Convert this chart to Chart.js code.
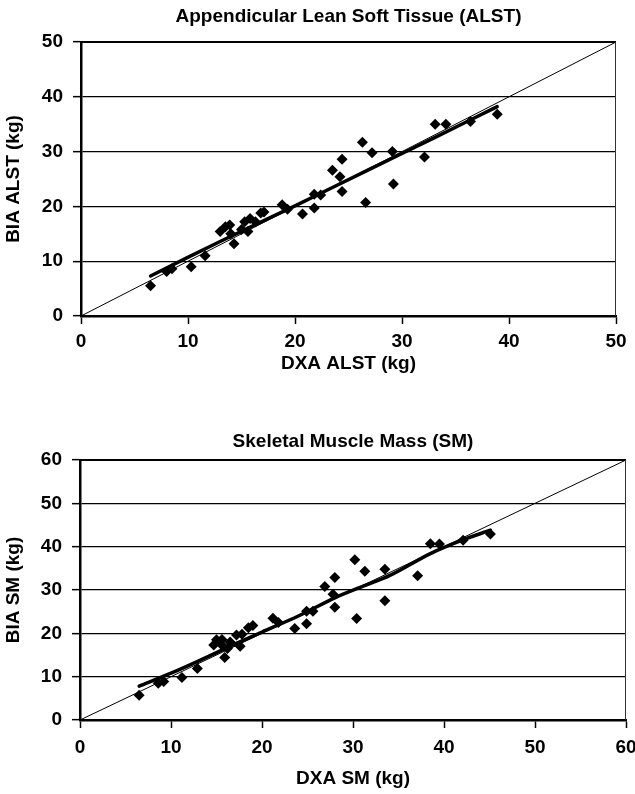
<!DOCTYPE html>
<html>
<head>
<meta charset="utf-8">
<script src="https://cdn.jsdelivr.net/npm/chart.js@4/dist/chart.umd.min.js"></script>
<style>
  html, body { margin: 0; padding: 0; background: #fff; }
  body { width: 635px; height: 794px; position: relative; overflow: hidden; }
  canvas { position: absolute; left: 0; }
  #c1 { top: 0; }
  #c2 { top: 400px; }
</style>
</head>
<body>
<canvas id="c1" width="635" height="380"></canvas>
<canvas id="c2" width="635" height="394"></canvas>
<script>
// ---------- Data: Appendicular Lean Soft Tissue (ALST) ----------
const alstTitle = "Appendicular Lean Soft Tissue (ALST)";
const alstXLabel = "DXA ALST (kg)";
const alstYLabel = "BIA ALST (kg)";
const alstTicks = [0, 10, 20, 30, 40, 50];
const alstDXA = [6.5, 8.0, 8.5, 10.3, 11.6, 13.0, 13.5, 13.9, 14.0, 14.3, 15.0, 15.3, 15.6, 15.8, 16.3, 16.8, 17.1, 18.8, 19.3, 20.7, 21.8, 21.8, 22.4, 23.5, 24.2, 24.4, 24.4, 26.3, 26.6, 27.2, 29.1, 29.2, 32.1, 33.1, 34.1, 36.4, 38.9];
const alstBIA = [5.5, 8.1, 8.6, 9.0, 11.0, 15.4, 16.3, 16.6, 15.0, 13.2, 15.8, 17.2, 15.4, 17.8, 17.2, 18.8, 19.0, 20.3, 19.5, 18.6, 22.2, 19.7, 22.1, 26.6, 25.4, 28.6, 22.7, 31.7, 20.7, 29.8, 30.0, 24.1, 29.0, 35.0, 35.0, 35.5, 36.8];
const alstFitX = [6.5, 13, 20, 27, 33, 38.9];
const alstFitY = [7.3, 13.6, 20.1, 26.8, 32.5, 38.2];
const alstIdentity = [0, 50];

// ---------- Data: Skeletal Muscle Mass (SM) ----------
const smTitle = "Skeletal Muscle Mass (SM)";
const smXLabel = "DXA SM (kg)";
const smYLabel = "BIA SM (kg)";
const smTicks = [0, 10, 20, 30, 40, 50, 60];
const smDXA = [6.5, 8.6, 9.2, 11.2, 12.9, 14.7, 15.0, 15.5, 15.6, 15.9, 16.2, 16.5, 17.2, 17.6, 17.8, 18.5, 19.0, 21.2, 21.8, 23.6, 24.9, 24.9, 25.6, 26.9, 27.8, 28.0, 28.0, 30.2, 30.4, 31.3, 33.5, 33.5, 37.1, 38.5, 39.5, 42.1, 45.1];
const smBIA = [5.7, 8.5, 8.9, 9.8, 11.9, 17.3, 18.5, 17.5, 18.6, 14.4, 16.5, 18.0, 19.6, 17.0, 19.8, 21.3, 21.8, 23.5, 22.5, 21.1, 22.2, 25.1, 25.1, 30.8, 29.0, 32.9, 26.0, 37.0, 23.4, 34.3, 34.8, 27.5, 33.3, 40.7, 40.6, 41.5, 42.9];
const smFitX = [6.5, 10, 13, 17, 20, 24, 28, 31, 34, 38.5, 42, 45.1];
const smFitY = [7.8, 10.8, 13.6, 17.5, 20.3, 24.0, 28.2, 30.8, 33.3, 38.4, 41.5, 43.8];
const smIdentity = [0, 60];

const FONT = "'Liberation Sans', Arial, Helvetica, sans-serif";
const FS = 19;

const framePlugin = {
  id: 'frame',
  afterDatasetsDraw(chart) {
    const a = chart.chartArea, ctx = chart.ctx;
    ctx.save();
    ctx.strokeStyle = '#000';
    ctx.lineWidth = 2;
    ctx.beginPath();
    ctx.moveTo(a.left, a.top); ctx.lineTo(a.right, a.top);
    ctx.stroke();
    ctx.lineWidth = 1;
    ctx.strokeStyle = '#333';
    ctx.beginPath();
    ctx.moveTo(a.right - 0.5, a.top); ctx.lineTo(a.right - 0.5, a.bottom);
    ctx.stroke();
    ctx.restore();
  }
};

function zip(xs, ys) { return xs.map((x, i) => ({ x: x, y: ys[i] })); }

function makeChart(id, cfg) {
  const tickValues = cfg.ticks;
  const maxV = tickValues[tickValues.length - 1];
  return new Chart(document.getElementById(id), {
    type: 'scatter',
    data: {
      datasets: [
        {
          data: zip(cfg.identity, cfg.identity),
          showLine: true, borderColor: '#000', borderWidth: 1,
          pointRadius: 0, fill: false, order: 3
        },
        {
          data: zip(cfg.fitX, cfg.fitY),
          showLine: true, borderColor: '#000', borderWidth: 3.5,
          pointRadius: 0, fill: false, tension: 0.3, order: 2,
          borderCapStyle: 'round'
        },
        {
          data: zip(cfg.xs, cfg.ys),
          showLine: false, pointStyle: 'rectRot', pointRadius: 5.5,
          backgroundColor: '#000', borderColor: '#000', borderWidth: 0, order: 1
        }
      ]
    },
    options: {
      responsive: false,
      animation: false,
      devicePixelRatio: 1,
      layout: { padding: { left: 0, right: cfg.padRight, top: 0, bottom: 0 } },
      plugins: {
        legend: { display: false },
        tooltip: { enabled: false },
        title: {
          display: true, text: cfg.title, color: '#000', fullSize: false,
          font: { family: FONT, size: FS, weight: 'bold', lineHeight: 1.2 },
          padding: { top: cfg.titlePadTop, bottom: cfg.titlePadBottom }
        }
      },
      scales: {
        x: {
          type: 'linear', min: 0, max: maxV,
          afterBuildTicks: s => { s.ticks = tickValues.map(v => ({ value: v })); },
          afterFit: s => { s.height = cfg.xHeight; s.paddingLeft = 0; s.paddingRight = 0; },
          ticks: { color: '#000', padding: cfg.xTickPad, font: { family: FONT, size: FS, weight: 'bold' }, maxRotation: 0 },
          grid: { drawOnChartArea: false, drawTicks: true, tickLength: 8, color: '#000', tickWidth: 1.5 },
          border: { display: true, color: '#000', width: 2.5 },
          title: {
            display: true, text: cfg.xLabel, color: '#000',
            font: { family: FONT, size: FS, weight: 'bold', lineHeight: 1.2 },
            padding: { top: 0, bottom: cfg.xTitlePad }
          }
        },
        y: {
          type: 'linear', min: 0, max: maxV,
          afterBuildTicks: s => { s.ticks = tickValues.map(v => ({ value: v })); },
          afterFit: s => { s.width = cfg.yWidth; s.paddingTop = 0; s.paddingBottom = 0; },
          ticks: { color: '#000', padding: 10, font: { family: FONT, size: FS, weight: 'bold' } },
          grid: { drawOnChartArea: true, drawTicks: true, tickLength: 8, color: '#000', lineWidth: 1.3, tickWidth: 1.5 },
          border: { display: true, color: '#000', width: 2.5 },
          title: {
            display: true, text: cfg.yLabel, color: '#000',
            font: { family: FONT, size: FS, weight: 'bold', lineHeight: 1.2 },
            padding: { top: 2.6, bottom: 0 }
          }
        }
      }
    },
    plugins: [framePlugin]
  });
}

makeChart('c1', {
  title: alstTitle, xLabel: alstXLabel, yLabel: alstYLabel, ticks: alstTicks,
  xs: alstDXA, ys: alstBIA, fitX: alstFitX, fitY: alstFitY, identity: alstIdentity,
  padRight: 19, titlePadTop: 5.6, titlePadBottom: 13.6,
  xHeight: 64, xTickPad: 6.3, xTitlePad: 4.6, yWidth: 81
});

makeChart('c2', {
  title: smTitle, xLabel: smXLabel, yLabel: smYLabel, ticks: smTicks,
  xs: smDXA, ys: smBIA, fitX: smFitX, fitY: smFitY, identity: smIdentity,
  padRight: 9, titlePadTop: 30.6, titlePadBottom: 6.6,
  xHeight: 74, xTickPad: 8.6, xTitlePad: 3.6, yWidth: 80
});
</script>
</body>
</html>
